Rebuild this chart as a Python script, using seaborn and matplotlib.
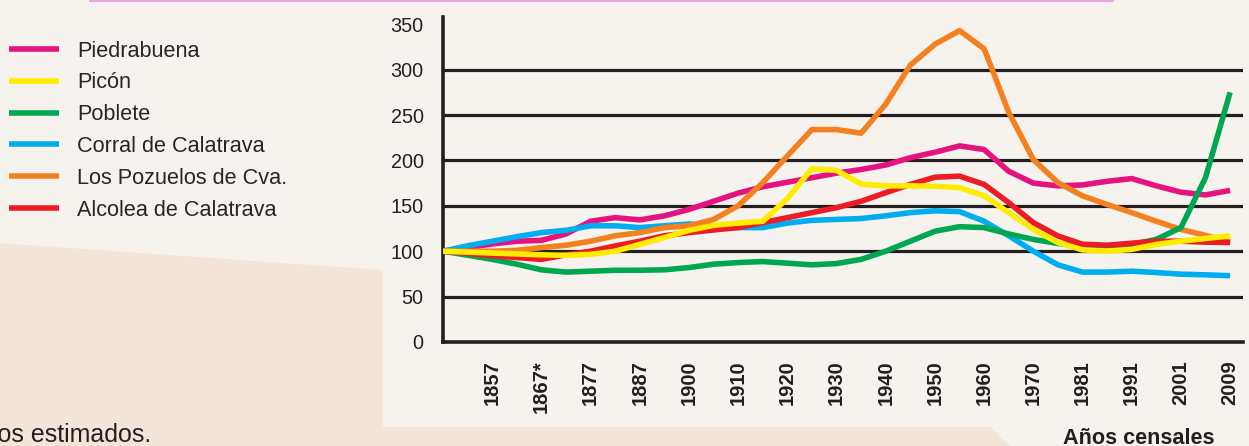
import numpy as np
import pandas as pd
import matplotlib
matplotlib.use("Agg")
import matplotlib.pyplot as plt
from matplotlib import font_manager
from matplotlib.patches import Polygon
from matplotlib.lines import Line2D
import seaborn as sns

# census slots (slot 0 = starting reference, unlabeled); values read every half slot
census = ["", "1857", "1867*", "1877", "1887", "1900", "1910", "1920", "1930",
          "1940", "1950", "1960", "1970", "1981", "1991", "2001", "2009"]
step = np.arange(33) / 2

piedrabuena = [100, 104, 108, 111, 112, 119, 133, 137, 134.5, 139, 146, 155, 164, 171, 176, 181, 186,
               190, 195, 203, 209, 216, 212, 188, 175, 172, 173, 177, 180, 172, 165, 162, 167]
picon = [100, 99, 98, 97, 96, 95.5, 96.5, 100, 107.5, 115, 123, 128.5, 131, 133, 158, 191, 189,
         174, 172, 172, 171.5, 170, 161, 142.5, 124, 109.5, 101.5, 100, 102, 107.5, 111, 114, 117]
poblete = [100, 95.6, 91, 85.7, 79.5, 77, 78, 79, 79, 79.5, 82, 85.7, 87.5, 88.6, 86.8, 85, 86.4,
           91, 100, 111, 122, 127, 126, 119, 113, 108.5, 106, 106, 107.5, 113, 126, 181, 275]
corral = [100, 106, 111, 116, 120.5, 123, 128, 128, 126, 128, 130, 128, 126, 126, 131, 134, 135,
          136, 139, 142.5, 144.5, 143.6, 133, 117, 100, 85, 77, 77, 78, 76.5, 74.7, 74, 73]
pozuelos = [100, 100, 100, 101, 104, 106.6, 111, 117, 120.5, 126, 128, 135, 150, 175.5, 205, 234, 234,
            230, 262, 305, 328, 343, 323, 253, 201, 175.5, 161, 151.5, 142.5, 133, 124, 117.5, 110]
alcolea = [100, 97.6, 95, 93, 91, 96, 100, 105.8, 111, 117, 120.5, 123.4, 126, 131.5, 137, 142.5, 148,
           155, 164.5, 173.6, 181.5, 182.7, 173.6, 153.5, 131.5, 116.8, 107.7, 106.6, 108.8, 111, 111, 110, 109.6]

names = ["Piedrabuena", "Picón", "Poblete", "Corral de Calatrava",
         "Los Pozuelos de Cva.", "Alcolea de Calatrava"]
colors = ["#E5137F", "#FFEC00", "#00A650", "#00AEEF", "#F4811F", "#EC1C24"]
series = [piedrabuena, picon, poblete, corral, pozuelos, alcolea]
# stacking order of the lines (higher = on top)
zorders = [3, 8, 6, 4, 5, 7]

df = pd.concat(
    [pd.DataFrame({"step": step, "indice": vals, "municipio": n}) for n, vals in zip(names, series)],
    ignore_index=True,
)

sns.set_style("white")
available = {f.name for f in font_manager.fontManager.ttflist}
plt.rcParams["font.family"] = ["Liberation Sans", "DejaVu Sans"]
narrow = "Liberation Sans Narrow" if "Liberation Sans Narrow" in available else "Liberation Sans"
narrow_scale = 1.0 if narrow == "Liberation Sans Narrow" else 0.82

BG = "#F6F3EF"
BEIGE = "#F3E6D9"
INK = "#231F20"

fig = plt.figure(figsize=(12.49, 4.46), dpi=100, facecolor=BG)
fig.patches.append(Polygon(
    [(0, 0.455), (0.3066, 0.3946), (0.3066, 0.0426), (0.7926, 0.0426), (0.8087, 0), (0, 0)],
    closed=True, transform=fig.transFigure, facecolor=BEIGE, edgecolor="none", zorder=0,
))
fig.add_artist(Line2D([0.072, 0.891], [0.998, 0.998], transform=fig.transFigure,
                      color="#E7A8DE", lw=1.6))

ax = fig.add_axes([0.3547, 0.2332, 0.6408, 0.7287])
ax.set_facecolor(BG)

sns.lineplot(data=df, x="step", y="indice", hue="municipio", hue_order=names,
             palette=colors, linewidth=4.0, errorbar=None, ax=ax)
for line, z in zip(ax.lines, zorders):
    line.set_zorder(z)
    line.set_solid_capstyle("butt")
    line.set_solid_joinstyle("round")

ax.set_xlim(0, 16.27)
ax.set_ylim(0, 358)
ax.set_yticks(np.arange(0, 351, 50))
ax.set_yticks([0], minor=True)
ax.set_xticks(np.arange(1, 17))
ax.set_xticklabels(census[1:], rotation=90, fontweight="bold", fontsize=14.5)
ax.set_xticks([0], minor=True)
ax.tick_params(axis="y", which="major", length=0, pad=14, labelsize=14.3, colors=INK)
ax.tick_params(axis="y", which="minor", length=7.5, width=2.5, color=INK)
ax.tick_params(axis="x", which="major", length=10, width=2.2, pad=3.0, color=INK, labelcolor=INK)
ax.tick_params(axis="x", which="minor", length=14, width=2.2, color=INK)

ax.grid(axis="y", color=INK, linewidth=2.3)
ax.get_ygridlines()[-1].set_visible(False)
ax.get_ygridlines()[0].set_visible(False)
for side in ["top", "right"]:
    ax.spines[side].set_visible(False)
for side in ["left", "bottom"]:
    ax.spines[side].set_color(INK)
    ax.spines[side].set_linewidth(2.6)
ax.set_xlabel("")
ax.set_ylabel("")

sns.move_legend(ax, "upper left", bbox_to_anchor=(0.0072, 0.909), bbox_transform=fig.transFigure,
                frameon=False, title=None, borderpad=0, borderaxespad=0,
                handlelength=2.3, handletextpad=0.85,
                labelspacing=0.5, prop={"family": narrow, "size": 19 * narrow_scale})
for h in ax.get_legend().get_lines():
    h.set_linewidth(4.0)
    h.set_solid_capstyle("butt")

fig.text(0.1209, 0.009, "*Datos estimados.", ha="right", va="baseline",
         fontsize=18, color=INK)
fig.text(0.851, 0.004, "Años censales", ha="left", va="baseline",
         fontsize=19 * narrow_scale, fontweight="bold", family=narrow, color=INK)

fig.savefig("out.png", dpi=100, facecolor=BG)
